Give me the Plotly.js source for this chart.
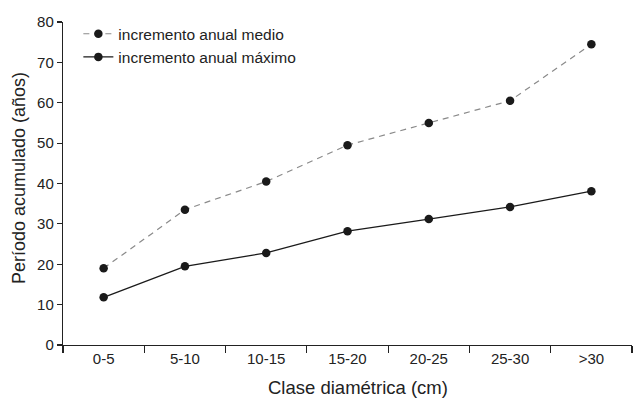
<!DOCTYPE html>
<html>
<head>
<meta charset="utf-8">
<script src="https://cdn.plot.ly/plotly-3.0.1.min.js"></script>
<style>html,body{margin:0;padding:0;background:#fff;}#chart{width:633px;height:399px;}</style>
</head>
<body>
<div id="chart"></div>
<script>
const categories = ["0-5", "5-10", "10-15", "15-20", "20-25", "25-30", ">30"];
const medio = [19, 33.5, 40.5, 49.5, 55, 60.5, 74.5];
const maximo = [11.8, 19.5, 22.8, 28.2, 31.2, 34.2, 38.1];
const yTicks = [0, 10, 20, 30, 40, 50, 60, 70, 80];
const xTitle = "Clase diamétrica (cm)";
const yTitle = "Período acumulado (años)";

const xIdx = categories.map((c, i) => i);
const boundaries = [-0.5].concat(xIdx.map(i => i + 0.5));
const font = "Liberation Sans, Arial, sans-serif";
const ink = "#222";

const traces = [
  {
    x: xIdx, y: medio, name: "incremento anual medio", type: "scatter", mode: "lines+markers",
    line: {color: "#8a8a8a", width: 1.2, dash: "6px,5px"},
    marker: {color: "#1a1a1a", size: 8.5}
  },
  {
    x: xIdx, y: maximo, name: "incremento anual máximo", type: "scatter", mode: "lines+markers",
    line: {color: "#1a1a1a", width: 1.3},
    marker: {color: "#1a1a1a", size: 8.5}
  },
  {
    x: [boundaries[0]], y: [-10], xaxis: "x2", yaxis: "y", showlegend: false,
    hoverinfo: "skip", mode: "markers", marker: {opacity: 0}
  }
];

const layout = {
  width: 633, height: 399,
  margin: {l: 63, r: 1, t: 22, b: 54},
  paper_bgcolor: "#fff", plot_bgcolor: "#fff",
  font: {family: font, color: ink, size: 15},
  showlegend: true,
  legend: {x: 0.027, y: 1.015, xanchor: "left", yanchor: "top", bgcolor: "rgba(0,0,0,0)",
           font: {size: 15.5, family: font, color: ink}, tracegroupgap: 0},
  xaxis: {
    range: [-0.5, 6.5], tickmode: "array", tickvals: xIdx, ticktext: categories,
    showgrid: false, zeroline: false, showline: true, linecolor: ink, linewidth: 1.2,
    ticks: "", fixedrange: true, tickfont: {size: 15, family: font, color: ink}
  },
  xaxis2: {
    range: [-0.5, 6.5], overlaying: "x", tickmode: "array",
    tickvals: boundaries, showticklabels: false,
    ticks: "outside", ticklen: 7, tickcolor: ink, tickwidth: 1.2,
    showgrid: false, zeroline: false, showline: false, anchor: "y"
  },
  yaxis: {
    range: [0, 80], tickmode: "array", tickvals: yTicks,
    showgrid: false, zeroline: false, showline: true, linecolor: ink, linewidth: 1.2,
    ticks: "outside", ticklen: 5, tickcolor: ink, tickwidth: 1.2,
    tickfont: {size: 15, family: font, color: ink}
  },
  annotations: [
    {text: xTitle, xref: "paper", yref: "paper", x: 0.518, y: -0.133, xanchor: "center", yanchor: "middle",
     showarrow: false, font: {size: 18.5, family: font, color: ink}},
    {text: yTitle, xref: "paper", yref: "paper", x: -0.0773, y: 0.517, xanchor: "center", yanchor: "middle",
     textangle: -90, showarrow: false, font: {size: 18, family: font, color: ink}}
  ]
};

Plotly.newPlot("chart", traces, layout, {displayModeBar: false, staticPlot: true});
</script>
</body>
</html>
